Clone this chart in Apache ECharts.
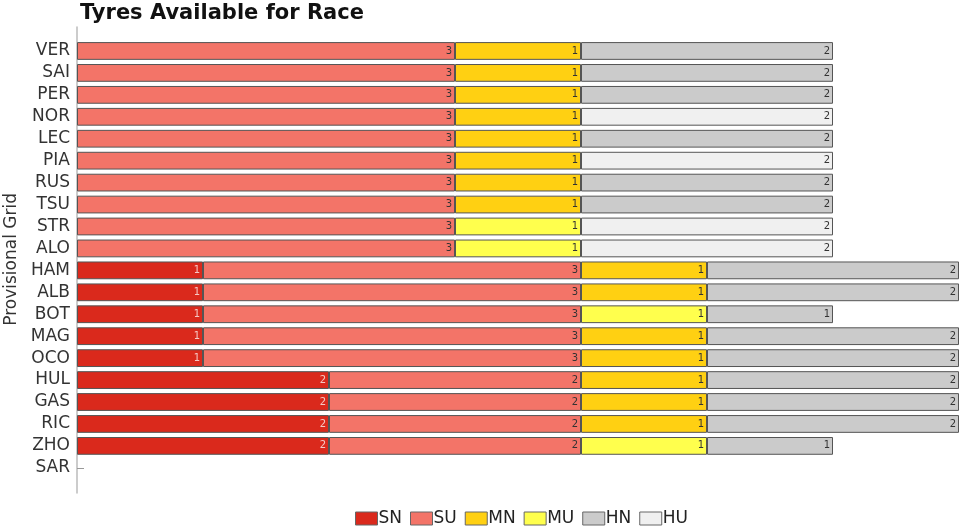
<!DOCTYPE html>
<html><head><meta charset="utf-8">
<script src="https://cdn.jsdelivr.net/npm/echarts@6/dist/echarts.min.js"></script>
<style>html,body{margin:0;padding:0;background:#fff}#c{width:960px;height:526px}</style>
</head><body><div id="c"></div>
<script>
const drivers = ['VER','SAI','PER','NOR','LEC','PIA','RUS','TSU','STR','ALO','HAM','ALB','BOT','MAG','OCO','HUL','GAS','RIC','ZHO','SAR'];
const compounds = ['SN','SU','MN','MU','HN','HU'];
const SN = [0,0,0,0,0,0,0,0,0,0,1,1,1,1,1,2,2,2,2,0];
const SU = [3,3,3,3,3,3,3,3,3,3,3,3,3,3,3,2,2,2,2,0];
const MN = [1,1,1,1,1,1,1,1,0,0,1,1,0,1,1,1,1,1,0,0];
const MU = [0,0,0,0,0,0,0,0,1,1,0,0,1,0,0,0,0,0,1,0];
const HN = [2,2,2,0,2,0,2,2,0,0,2,2,1,2,2,2,2,2,1,0];
const HU = [0,0,0,2,0,2,0,0,2,2,0,0,0,0,0,0,0,0,0,0];
const values = [SN,SU,MN,MU,HN,HU];
const colors = ['#da291c','#f37468','#ffd012','#ffff4d','#cbcbcb','#f0f0f0'];
const labelColors = ['#f5c8c4','#333','#333','#333','#333','#333'];
const FONT = '"DejaVu Sans", "Noto Sans", sans-serif';

const chart = echarts.init(document.getElementById('c'), null, {renderer:'canvas'});
const series = compounds.map((name,i)=>({
  name, type:'bar', stack:'t', xAxisIndex:1, yAxisIndex:1,
  barWidth:'81%',
  data: values[i].map(v=> v>0 ? v : null),
  itemStyle:{color:colors[i], borderColor:'#555', borderWidth:1},
  label:{show:true, position:'insideRight', distance:3, fontSize:10, color:labelColors[i], fontFamily:FONT,
    formatter:p=>p.value},
  emphasis:{disabled:true}, animation:false
}));
chart.setOption({
  animation:false,
  title:{text:'Tyres Available for Race', left:75, top:-2,
    textStyle:{fontFamily:'"DejaVu Sans", sans-serif', fontWeight:'bold', fontSize:21, color:'#111'}},
  legend:{top:505, left:350, itemWidth:22, itemHeight:13, itemGap:8, icon:'rect',
    data:compounds,
    textStyle:{fontFamily:FONT, fontSize:17, color:'#222', padding:[0,0,0,-4]},
    itemStyle:{borderColor:'#666', borderWidth:1}},
  grid:[
    {left:77, top:27, width:882, height:466, containLabel:false, outerBoundsMode:'none'},
    {left:77, top:40, width:882, height:438.8, containLabel:false, outerBoundsMode:'none'}
  ],
  xAxis:[
    {gridIndex:0, type:'value', min:0, max:7, show:false},
    {gridIndex:1, type:'value', min:0, max:7, show:false}
  ],
  yAxis:[
    {gridIndex:0, type:'value', min:0, max:1, axisLine:{show:true, lineStyle:{color:'#bbb', width:1.5}},
     axisTick:{show:false}, axisLabel:{show:false}, splitLine:{show:false}},
    {gridIndex:1, type:'category', inverse:true, data:drivers,
     axisLine:{show:false},
     axisTick:{show:true, inside:true, alignWithLabel:true, interval:0, length:7, lineStyle:{color:'#999'}},
     axisLabel:{fontFamily:FONT, fontSize:17, color:'#333', margin:7, interval:0},
     name:'Provisional Grid', nameLocation:'middle', nameGap:55, nameRotate:90,
     nameTextStyle:{fontFamily:FONT, fontSize:17, color:'#333'}}
  ],
  series
});
</script></body></html>
